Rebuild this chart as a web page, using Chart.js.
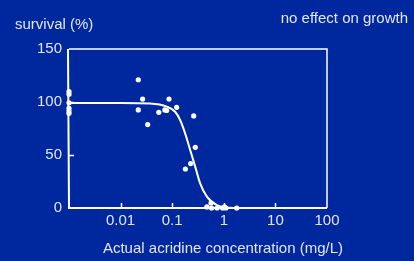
<!DOCTYPE html>
<html><head><meta charset="utf-8">
<script src="https://cdn.jsdelivr.net/npm/chart.js@4.4.0/dist/chart.umd.min.js"></script>
<style>html,body{margin:0;padding:0;background:#00289e;overflow:hidden}canvas{display:block}</style>
</head><body>
<canvas id="c" width="414" height="261"></canvas>
<script>
// Observed data points (concentration mg/L, survival %); controls plotted at the 0.001 axis edge
const pointConc = [0.001,0.001,0.001,0.001,0.001,0.001,
  0.022,0.0267,0.022,0.0335,0.055,0.072,0.078,0.0867,0.122,
  0.18,0.228,0.261,0.28,0.47,0.565,0.58,0.74,0.95,1.03,1.1,1.78];
const pointSurvival = [109.7,107.3,99.3,94.1,91.5,89.3,
  121,102.8,92.5,78.7,90.3,92.5,92,102.8,95,
  36.8,41.9,86.9,57.2,1,4.7,0,0,0,1,0,0];
// Fitted curve
const fitConc = [0.001,0.01,0.0373,0.0787,0.114,0.1425,0.178,0.223,0.279,0.348,0.47,0.734,1.33,1.9];
const fitSurvival = [99,99,98.5,95.6,90.8,83,70.4,54.7,39,23.3,10.7,2.8,0.3,0];
// Ticks
const xTickValues = [0.001,0.01,0.1,1,10,100];
const xTickLabels = ['','0.01','0.1','1','10','100'];
const xInnerTicks = [0.01,0.1,1,10];
const yTickValues = [0,50,100,150];
const yTickLabels = ['0','50','100','150'];
const yInnerTicks = [50,100];
const yLabel = 'survival (%)';
const xLabel = 'Actual acridine concentration (mg/L)';
const noteText = 'no effect on growth';

const BG = '#00289e';
const FG = '#ffffff';
const TXT = '#e2e6f2';
const FONT = '"Liberation Sans", Arial, Helvetica, sans-serif';

const decor = {
  id: 'decor',
  beforeDraw(chart) {
    const ctx = chart.ctx;
    ctx.save();
    ctx.fillStyle = BG;
    ctx.fillRect(0, 0, chart.width, chart.height);
    ctx.restore();
  },
  beforeDatasetsDraw(chart) {
    const ctx = chart.ctx, a = chart.chartArea;
    const xs = chart.scales.x, ys = chart.scales.y;
    ctx.save();
    ctx.strokeStyle = FG;
    ctx.lineWidth = 1.5;
    ctx.beginPath();
    ctx.moveTo(a.left, a.top); ctx.lineTo(a.right, a.top); ctx.lineTo(a.right, a.bottom);
    ctx.stroke();
    ctx.lineWidth = 2;
    ctx.beginPath();
    ctx.moveTo(a.left - 1, a.top); ctx.lineTo(a.left, a.bottom); ctx.lineTo(a.right, a.bottom);
    ctx.stroke();
    ctx.lineWidth = 1.5;
    ctx.beginPath();
    xInnerTicks.forEach(v => { const px = Math.round(xs.getPixelForValue(v)) + 0.5; ctx.moveTo(px, a.bottom); ctx.lineTo(px, a.bottom - 5); });
    yInnerTicks.forEach(v => { const py = Math.round(ys.getPixelForValue(v)) + 0.5; ctx.moveTo(a.left, py); ctx.lineTo(a.left + 5, py); });
    ctx.stroke();
    ctx.restore();
  },
  afterDraw(chart) {
    const ctx = chart.ctx, a = chart.chartArea;
    ctx.save();
    ctx.fillStyle = TXT;
    ctx.font = '15px ' + FONT;
    ctx.textBaseline = 'alphabetic';
    ctx.textAlign = 'left';
    ctx.fillText(yLabel, 15, 28.5);
    ctx.textAlign = 'right';
    ctx.fillText(noteText, 408, 23);
    ctx.textAlign = 'center';
    ctx.fillText(xLabel, 223, 253);
    ctx.restore();
  }
};

new Chart(document.getElementById('c'), {
  type: 'scatter',
  data: {
    datasets: [
      {
        label: 'fit',
        data: fitConc.map((c, i) => ({ x: c, y: fitSurvival[i] })),
        showLine: true,
        borderColor: FG,
        borderWidth: 2,
        pointRadius: 0,
        cubicInterpolationMode: 'monotone',
        fill: false,
        clip: false
      },
      {
        label: 'observed',
        data: pointConc.map((c, i) => ({ x: c, y: pointSurvival[i] })),
        showLine: false,
        pointRadius: 2.6,
        pointBackgroundColor: FG,
        pointBorderWidth: 0,
        clip: false
      }
    ]
  },
  options: {
    responsive: false,
    animation: false,
    devicePixelRatio: 1,
    layout: { padding: { left: 0, right: 87, top: 49, bottom: 0 } },
    plugins: { legend: { display: false }, tooltip: { enabled: false } },
    scales: {
      x: {
        type: 'logarithmic', min: 0.001, max: 100,
        afterBuildTicks: s => { s.ticks = xTickValues.map(v => ({ value: v })); },
        afterFit: s => { s.height = 53; },
        grid: { display: false, drawTicks: false },
        border: { display: false },
        ticks: {
          autoSkip: false, maxRotation: 0, padding: 4,
          color: TXT, font: { family: FONT, size: 15 },
          callback: (v, i) => xTickLabels[i]
        }
      },
      y: {
        type: 'linear', min: 0, max: 150,
        afterBuildTicks: s => { s.ticks = yTickValues.map(v => ({ value: v })); },
        afterFit: s => { s.width = 69; },
        grid: { display: false, drawTicks: false },
        border: { display: false },
        ticks: {
          padding: 7,
          color: TXT, font: { family: FONT, size: 15 },
          callback: (v, i) => yTickLabels[i]
        }
      }
    }
  },
  plugins: [decor]
});
</script>
</body></html>
